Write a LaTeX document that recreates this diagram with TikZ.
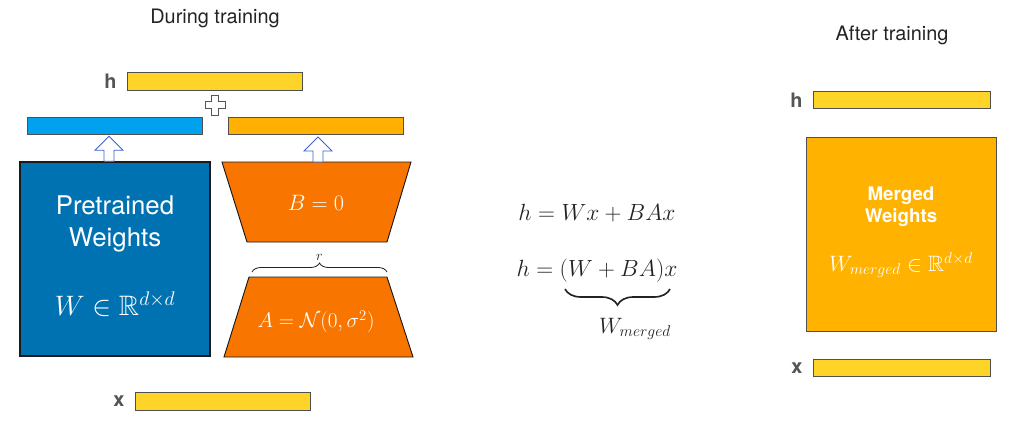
\documentclass[tikz,border=0pt]{standalone}
\usepackage{fix-cm}
\usepackage{amsmath}
\usepackage{amssymb}
\usepackage{fontspec}
\setmainfont{TeX Gyre Heros}
\usepackage{tikz}
\usetikzlibrary{positioning, calc, decorations.pathreplacing}
\definecolor{mytext}{RGB}{35,35,35}
\definecolor{mylabel}{RGB}{85,85,85}
\definecolor{myedge}{RGB}{80,80,80}
\definecolor{mydark}{RGB}{25,25,30}
\definecolor{myyellow}{RGB}{255,212,40}
\definecolor{myblue}{RGB}{0,162,240}
\definecolor{myamber}{RGB}{255,176,0}
\definecolor{mynavy}{RGB}{0,114,178}
\definecolor{myorange}{RGB}{248,118,0}
\definecolor{mymerge}{RGB}{255,178,0}
\definecolor{myarrow}{RGB}{60,100,210}
\tikzset{
  bar/.style={rectangle, draw=myedge, line width=0.6pt,
    minimum width=5.25cm, minimum height=0.53cm, inner sep=0pt},
  vecname/.style={font=\fontsize{17}{17}\selectfont\bfseries, text=mylabel},
  title/.style={font=\fontsize{17}{20}\selectfont, text=mytext},
  weights/.style={rectangle, minimum width=5.7cm, minimum height=5.82cm, inner sep=0pt},
  trap/.style={draw=mydark, line width=0.8pt, fill=myorange},
  hollow/.style={draw=myarrow, fill=white, line width=0.7pt, line join=miter},
  eq/.style={font=\fontsize{20}{24}\selectfont, text=mytext},
  brace/.style={decorate, decoration={brace, amplitude=0.27cm}, line width=0.7pt, draw=mytext},
  bigbrace/.style={decorate, decoration={brace, amplitude=0.48cm}, line width=1.4pt, draw=mytext}
}

\begin{document}
\begin{tikzpicture}[x=0.03cm, y=-0.03cm]
  \useasboundingbox (0,0) rectangle (1012,424);

  % During training
  \node[title] (during) at (215,18) {During training};
  \node[bar, fill=myyellow] (hbar) at (214.5,81.5) {};
  \node[vecname, left=0.18cm of hbar] (hname) {h};

  % Plus sign between the two outputs
  \draw[draw=mylabel, fill=white, line width=0.7pt]
    (211.5,95) -- (218.5,95) -- (218.5,101.5) -- (225,101.5) -- (225,108.5)
    -- (218.5,108.5) -- (218.5,115) -- (211.5,115) -- (211.5,108.5)
    -- (205,108.5) -- (205,101.5) -- (211.5,101.5) -- cycle;

  \node[bar, fill=myblue] (wbar) at (114.5,126) {};
  \node[bar, fill=myamber] (babar) at (316,126) {};

  % Pretrained weights
  \node[weights, fill=mynavy, draw=mydark, line width=1.2pt] (pre) at (115,259) {};
  \node[font=\fontsize{22}{27}\selectfont, text=white, align=center] (pretext) at (115,224) {Pretrained\\Weights};
  \node[font=\fontsize{24}{28}\selectfont, text=white] (wtext) at (115,304) {$W \in \mathbb{R}^{d\times d}$};

  % Low-rank adapters B and A
  \coordinate (btop) at (316,162);
  \draw[trap] (222,162) -- (411,162) -- (387,242) -- (247,242) -- cycle;
  \node[font=\fontsize{19}{22}\selectfont, text=white] (bzero) at (316,203) {$B = 0$};
  \draw[trap] (249,277) -- (387,277) -- (413,357) -- (224,357) -- cycle;
  \node[font=\fontsize{18}{22}\selectfont, text=white] (anorm) at (316,322) {$A = \mathcal{N}(0, \sigma^2)$};
  \draw[brace] (252,272) -- (387,272) node[midway, above=0.22cm, font=\fontsize{12}{12}\selectfont, text=mytext] (rank) {$r$};

  % Hollow arrows into the outputs
  \draw[hollow] ($(pre.north)+(-11,0)$) -- ++(0,-11) -- ++(-9,0) -- ++(14,-14)
    -- ++(14,14) -- ++(-9,0) -- ++(0,11) -- cycle;
  \draw[hollow] ($(btop)+(-3,0)$) -- ++(0,-11) -- ++(-9,0) -- ++(14,-14)
    -- ++(14,14) -- ++(-9,0) -- ++(0,11) -- cycle;

  \node[bar, fill=myyellow] (xbar) at (222.5,401.5) {};
  \node[vecname, left=0.18cm of xbar] (xname) {x};

  % Equations
  \node[eq] (eqone) at (597,213) {$h = Wx + BAx$};
  \node[eq] (eqtwo) at (597,271) {$h = (W + BA)x$};
  \draw[bigbrace] (670,289) -- (565,289);
  \node[eq, font=\fontsize{19}{22}\selectfont] (wmerged) at (635,329) {$W_{merged}$};

  % After training
  \node[title] (after) at (892,35) {After training};
  \node[bar, fill=myyellow, minimum width=5.31cm] (hbartwo) at (901.5,100) {};
  \node[vecname, left=0.18cm of hbartwo] (hnametwo) {h};
  \node[weights, fill=mymerge, draw=myedge, line width=0.8pt] (merged) at (901,234) {};
  \node[font=\fontsize{16}{19}\selectfont\bfseries, text=white, align=center] (mergedtext) at (901,207) {Merged\\Weights};
  \node[font=\fontsize{19}{22}\selectfont, text=white] (wmtext) at (901,265) {$W_{merged} \in \mathbb{R}^{d\times d}$};
  \node[bar, fill=myyellow, minimum width=5.31cm] (xbartwo) at (901.5,368) {};
  \node[vecname, left=0.18cm of xbartwo] (xnametwo) {x};
\end{tikzpicture}
\end{document}
